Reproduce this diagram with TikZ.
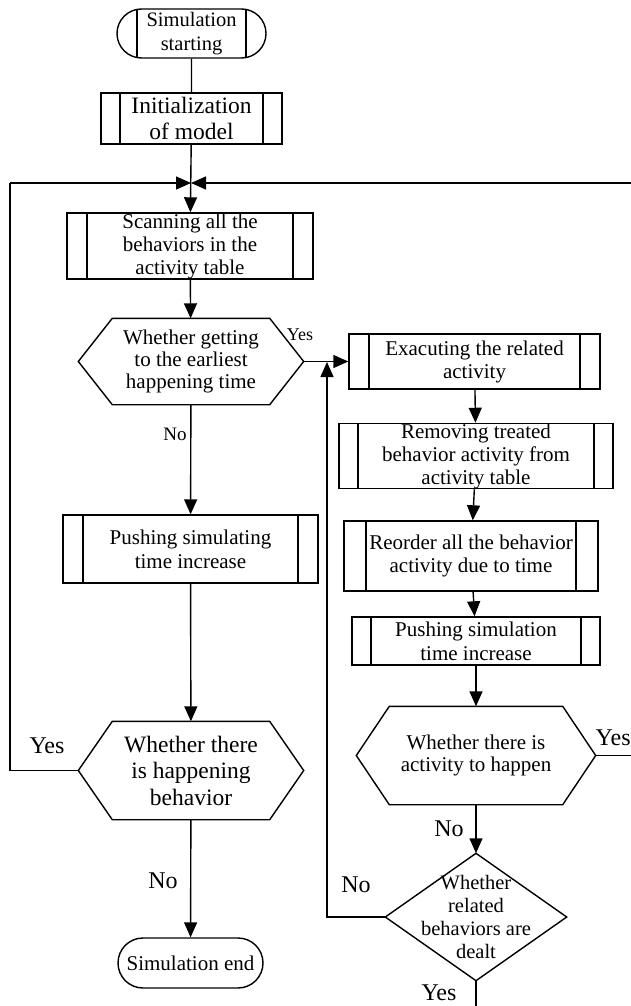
\documentclass[tikz,border=0pt]{standalone}
\usepackage{fontspec}
\setmainfont{Liberation Serif}
\usetikzlibrary{arrows.meta,positioning,shapes.misc}

\begin{document}
\begin{tikzpicture}[
    x=1pt, y=-1pt, line width=1.4pt,
    >={Triangle[length=15pt,width=13pt]},
    txt/.style={font=\fontsize{21}{23}\selectfont},
    big/.style={font=\fontsize{23.5}{26.5}\selectfont},
    procbox/.style={draw,rectangle,inner sep=0pt,align=center,txt,
      path picture={\draw ([xshift=#1]path picture bounding box.north west) -- ([xshift=#1]path picture bounding box.south west)
                          ([xshift=-#1]path picture bounding box.north east) -- ([xshift=-#1]path picture bounding box.south east);}},
    procbox/.default=20pt,
    termbox/.style={draw,rounded rectangle,inner sep=0pt,align=center,txt},
    hexbox/.style={inner sep=0pt,align=center,txt},
    lbl/.style={anchor=base,inner sep=0pt,font=\fontsize{24}{24}\selectfont},
  ]
  \useasboundingbox (0,0) rectangle (631,1006);

  % main column
  \node[procbox,rounded rectangle,minimum width=149pt,minimum height=49pt,
        font=\fontsize{20.5}{24}\selectfont] (start) at (191.5,33.5) {Simulation\\starting};
  \node[procbox=19pt,big,minimum width=181pt,minimum height=51pt] (init) at (191.5,118.5) {Initialization\\of model};
  \coordinate (merge) at (191,183);
  \coordinate (lft) at (10,183);
  \coordinate (rgt) at (631,183);
  \node[procbox,minimum width=246pt,minimum height=66pt] (scan) at (190,246) {Scanning all the\\behaviors in the\\activity table};
  \node[hexbox,minimum width=224pt,minimum height=85pt,font=\fontsize{21}{22}\selectfont] (h1) at (191,361.5) {Whether getting\\to the earliest\\happening time};
  \node[procbox,minimum width=255pt,minimum height=68pt,font=\fontsize{21}{24}\selectfont] (push) at (190.5,549) {Pushing simulating\\time increase};
  \node[hexbox,big,minimum width=224pt,minimum height=97pt] (h2) at (191,770.5) {Whether there\\is happening\\behavior};
  \node[termbox,minimum width=145pt,minimum height=50pt] (end) at (190.5,963) {Simulation end};

  % right column
  \node[procbox,minimum width=251pt,minimum height=55pt] (exec) at (474.5,361.5) {Exacuting the related\\activity};
  \node[procbox=19pt,minimum width=274pt,minimum height=60pt] (remove) at (476,456) {Removing treated\\behavior activity from\\activity table};
  \node[procbox=22pt,minimum width=254pt,minimum height=70pt] (reorder) at (471,556) {Reorder all the behavior\\activity due to time};
  \node[procbox=19pt,minimum width=248pt,minimum height=48pt,font=\fontsize{21}{24}\selectfont] (pushsim) at (476,641) {Pushing simulation\\time increase};
  \node[hexbox,minimum width=238pt,minimum height=97pt,font=\fontsize{21}{22}\selectfont] (h3) at (476,755.5) {Whether there is\\activity to happen};
  \node[hexbox,minimum width=180pt,minimum height=126pt,font=\fontsize{20.5}{23}\selectfont] (dm) at (476,917) {Whether\\related\\behaviors are\\dealt};
  \coordinate (back) at (327,362);
  \coordinate (bot) at (476,1006);

  % hexagons and diamond outlines
  \foreach \n/\c in {h1/34,h2/34,h3/33}
    \draw (\n.west) -- ([xshift=\c pt]\n.north west) -- ([xshift=-\c pt]\n.north east) -- (\n.east)
          -- ([xshift=-\c pt]\n.south east) -- ([xshift=\c pt]\n.south west) -- cycle;
  \draw (dm.north) -- (dm.east) -- (dm.south) -- (dm.west) -- cycle;

  % flow
  \draw (start) -- (init);
  \draw[->] (init) -- (scan);
  \draw[->] (lft) -- (merge);
  \draw[->] (rgt) -- (merge);
  \draw[->] (scan) -- (h1);
  \draw[->] (h1) -- (push);
  \draw[->] (push) -- (h2);
  \draw[->] (h2) -- (end);
  \draw (h2.west) -| (lft);
  \draw[->] (h1.east) -- (exec.west);
  \draw[->] (exec) -- (remove);
  \draw[->] (remove) -- (reorder);
  \draw[->] (reorder) -- (pushsim);
  \draw[->] (pushsim) -- (h3);
  \draw[->] (h3) -- (dm);
  \draw (h3.east) -- (h3.east -| rgt);
  \draw[->] (dm.west) -| (back);
  \draw (dm.south) -- (bot);

  % branch labels
  \node[lbl,font=\fontsize{18}{18}\selectfont] (yes1) at (300,340) {Yes};
  \node[lbl,font=\fontsize{19}{19}\selectfont] (no1) at (175,440) {No};
  \node[lbl] (yes2) at (47,753) {Yes};
  \node[lbl] (no2) at (163,888) {No};
  \node[lbl] (no3) at (449,836) {No};
  \node[lbl] (no4) at (356,892) {No};
  \node[lbl,anchor=base west] (yes3) at (595,745) {Yes};
  \node[lbl] (yes4) at (439,1000) {Yes};
\end{tikzpicture}
\end{document}
